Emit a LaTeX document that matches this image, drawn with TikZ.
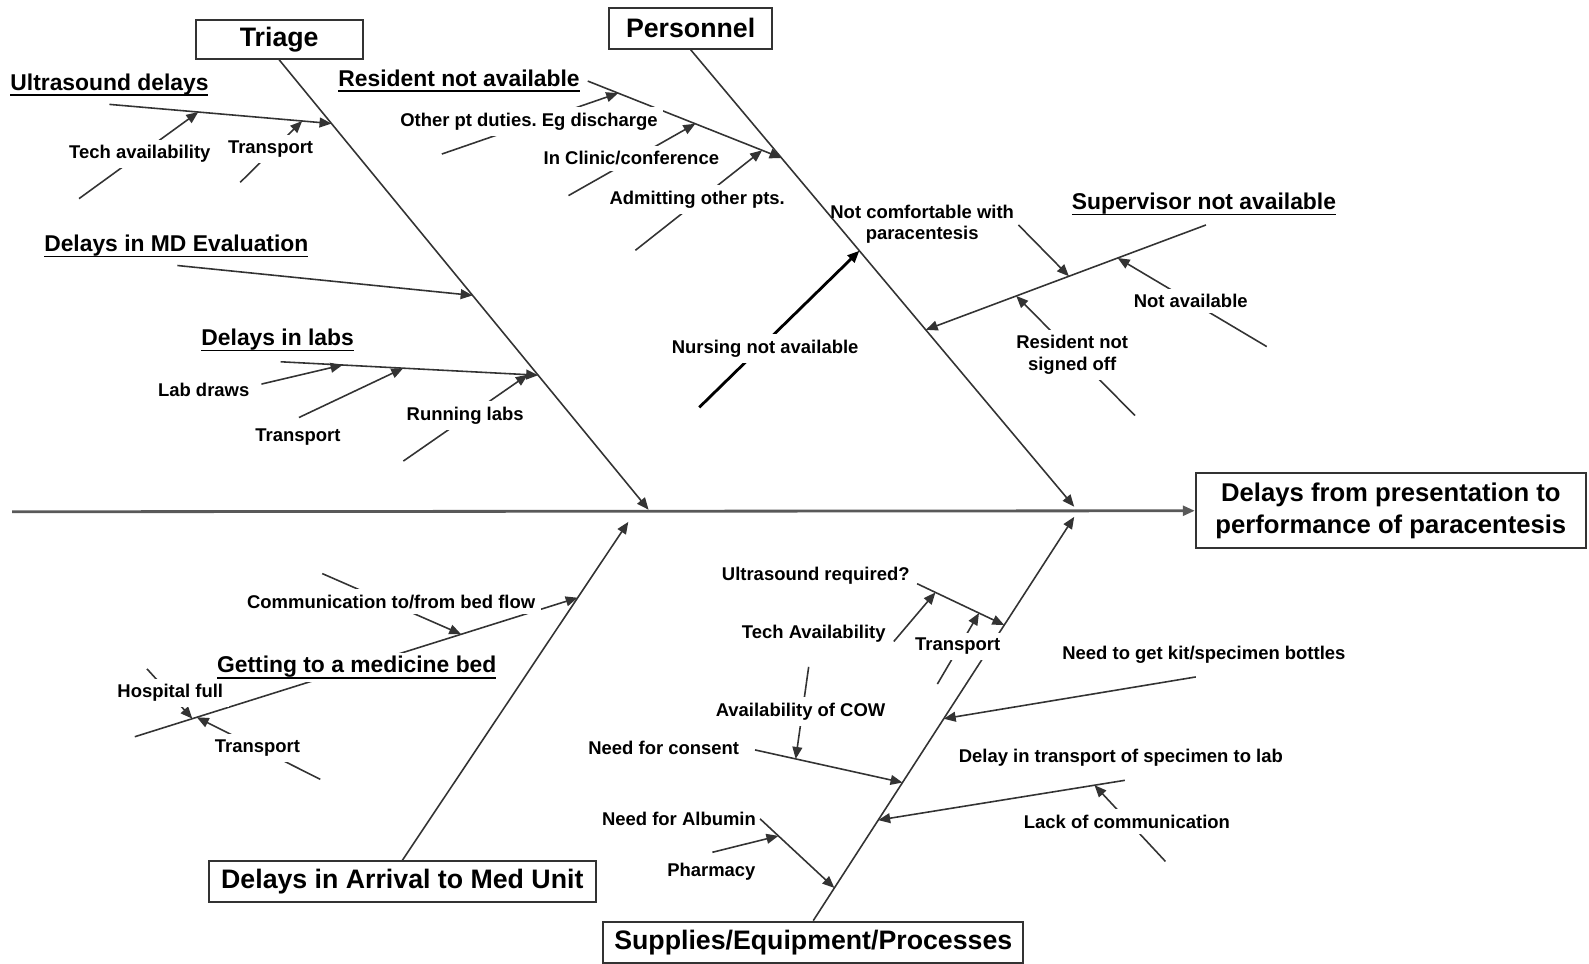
\documentclass[tikz,border=0pt]{standalone}
\usepackage{fontspec}
\setmainfont{Liberation Sans}
\usepackage{xcolor}
\colorlet{colorLine}{black!80}
\colorlet{colorSpine}{black!65}
\usepackage{tikz}
\usetikzlibrary{arrows.meta, calc}
\frenchspacing
\newcommand{\hdul}[1]{\underline{\smash{#1}}}
\tikzset{
  catbox/.style={draw=colorLine, line width=0.6pt, fill=white, inner sep=0pt, align=center, font=\fontsize{7.6}{9}\selectfont\bfseries},
  head/.style={inner sep=0pt, anchor=base, text height=4.8pt, text depth=1.7pt, font=\fontsize{6.5}{7.5}\selectfont\bfseries},
  onhead/.style={head, fill=white, inner sep=1pt},
  lbl/.style={inner sep=1pt, align=center, font=\fontsize{5.25}{6.1}\selectfont\bfseries},
  onlbl/.style={lbl, fill=white, inner sep=1.6pt},
  bone/.style={draw=colorLine, line width=0.45pt},
}

\begin{document}
\begin{tikzpicture}[x=0.010134cm, y=-0.010134cm, >={Triangle[length=3.4pt, width=2.8pt]}]
\useasboundingbox (0,0) rectangle (1568,951);
\node[catbox, minimum width=1.67cm, minimum height=0.385cm] (triage) at (275.5,39) {Triage};
\node[catbox, minimum width=1.63cm, minimum height=0.405cm] (pers) at (681.5,28) {Personnel};
\node[catbox, minimum width=3.87cm, minimum height=0.405cm] (arrival) at (397,870) {Delays in Arrival to Med Unit};
\node[catbox, minimum width=4.2cm, minimum height=0.415cm] (supp) at (802.5,930) {Supplies/Equipment/Processes};
\node[catbox, minimum width=3.9cm, minimum height=0.75cm, font=\fontsize{7.3}{8.9}\selectfont\bfseries] (effect) at (1372.5,504) {Delays from presentation to\\performance of paracentesis};

\coordinate (sp0) at (12,505);
\coordinate (tj) at (640,503);
\coordinate (pj) at (1060,500);
\coordinate (aj) at (620,515);
\coordinate (sj) at (1060,510);
\draw [->, draw=colorSpine, line width=0.8pt] (sp0) -- (effect.west);
\draw [->, bone] (triage.south) -- (tj);
\draw [->, bone] (pers.south) -- (pj);
\draw [->, bone] (arrival.north) -- (aj);
\draw [->, bone] (supp.north) -- (sj);

\coordinate (us0) at (108,103);
\coordinate (us1) at ($(triage.south)!0.1416!(tj)$);
\coordinate (usa) at (78,196);
\coordinate (usb) at (237,180);
\draw [->, bone] (us0) -- (us1);
\draw [->, bone] (usa) -- ($(us0)!0.40!(us1)$);
\draw [->, bone] (usb) -- ($(us0)!0.868!(us1)$);
\coordinate (md0) at (175,262);
\draw [->, bone] (md0) -- ($(triage.south)!0.5236!(tj)$);
\coordinate (lb0) at (277,357);
\coordinate (lb1) at ($(triage.south)!0.701!(tj)$);
\coordinate (lba) at (258,379);
\coordinate (lbb) at (295,412);
\coordinate (lbc) at (398,455);
\draw [->, bone] (lb0) -- (lb1);
\draw [->, bone] (lba) -- ($(lb0)!0.24!(lb1)$);
\draw [->, bone] (lbb) -- ($(lb0)!0.476!(lb1)$);
\draw [->, bone] (lbc) -- ($(lb0)!0.96!(lb1)$);

\coordinate (rn0) at (580,80);
\coordinate (rn1) at ($(pers.south)!0.237!(pj)$);
\coordinate (rna0) at (436,152);
\coordinate (rnb0) at (561,193);
\coordinate (rnc0) at (627,247);
\draw [->, bone] (rn0) -- (rn1);
\draw [->, bone] (rna0) -- ($(rn0)!0.157!(rn1)$);
\draw [->, bone] (rnb0) -- ($(rn0)!0.555!(rn1)$);
\draw [->, bone] (rnc0) -- ($(rn0)!0.90!(rn1)$);
\coordinate (nu0) at (690,402);
\draw [->, draw=black, line width=0.8pt] (nu0) -- ($(pers.south)!0.44!(pj)$);
\coordinate (sv0) at (1190,222);
\coordinate (sv1) at ($(pers.south)!0.613!(pj)$);
\coordinate (sva0) at (1005,222);
\coordinate (svb0) at (1250,342);
\coordinate (svc0) at (1120,410);
\draw [->, bone] (sv0) -- (sv1);
\draw [->, bone] (sva0) -- ($(sv0)!0.489!(sv1)$);
\draw [->, bone] (svb0) -- ($(sv0)!0.315!(sv1)$);
\draw [->, bone] (svc0) -- ($(sv0)!0.677!(sv1)$);

\coordinate (gb0) at (133,727);
\coordinate (gb1) at ($(arrival.north)!0.776!(aj)$);
\coordinate (gba0) at (318,566);
\coordinate (gbb0) at (145,660);
\coordinate (gbc0) at (316,769);
\draw [->, bone] (gb0) -- (gb1);
\draw [->, bone] (gba0) -- ($(gb0)!0.737!(gb1)$);
\draw [->, bone] (gbb0) -- ($(gb0)!0.13!(gb1)$);
\draw [->, bone] (gbc0) -- ($(gb0)!0.14!(gb1)$);

\coordinate (ur0) at (905,576);
\coordinate (ur1) at ($(supp.north)!0.732!(sj)$);
\coordinate (ura0) at (882,633);
\coordinate (urb0) at (925,675);
\draw [->, bone] (ur0) -- (ur1);
\draw [->, bone] (ura0) -- ($(ur0)!0.21!(ur1)$);
\draw [->, bone] (urb0) -- ($(ur0)!0.71!(ur1)$);
\coordinate (cs0) at (745,740);
\coordinate (cs1) at ($(supp.north)!0.342!(sj)$);
\coordinate (csa0) at (798,658);
\draw [->, bone] (cs0) -- (cs1);
\draw [->, bone] (csa0) -- ($(cs0)!0.276!(cs1)$);
\coordinate (kt0) at (1180,668);
\draw [->, bone] (kt0) -- ($(supp.north)!0.50!(sj)$);
\coordinate (dt0) at (1110,770);
\coordinate (dt1) at ($(supp.north)!0.249!(sj)$);
\coordinate (dta0) at (1150,850);
\draw [->, bone] (dt0) -- (dt1);
\draw [->, bone] (dta0) -- ($(dt0)!0.123!(dt1)$);
\coordinate (ab0) at (750,808);
\coordinate (ab1) at ($(supp.north)!0.081!(sj)$);
\coordinate (aba0) at (703,841);
\draw [->, bone] (ab0) -- (ab1);
\draw [->, bone] (aba0) -- ($(ab0)!0.247!(ab1)$);

\node[head] (usd) at (108,89) {\hdul{Ultrasound delays}};
\node[onlbl] (usdtech) at (138,152) {Tech availability};
\node[onlbl] (usdtrans) at (267,147) {Transport};
\node[head] (mde) at (174,248) {\hdul{Delays in MD Evaluation}};
\node[head] (labs) at (274,341) {\hdul{Delays in labs}};
\node[lbl] (labsdraw) at (201,385) {Lab draws};
\node[lbl] (labstrans) at (294,431) {Transport};
\node[onlbl] (labsrun) at (459,410) {Running labs};

\node[head] (resna) at (453,85) {\hdul{Resident not available}};
\node[onlbl] (resduty) at (522,120) {Other pt duties. Eg discharge};
\node[onlbl] (resclin) at (623,156) {In Clinic/conference};
\node[onlbl] (resadm) at (688,197) {Admitting other pts.};
\node[onlbl] (nurse) at (755,344) {Nursing not available};
\node[head] (supna) at (1188,207) {\hdul{Supervisor not available}};
\node[lbl] (supcomf) at (910,221) {Not comfortable with\\paracentesis};
\node[onlbl] (supavail) at (1175,297) {Not available};
\node[onlbl] (supsign) at (1058,350) {Resident not\\signed off};

\node[onhead] (bed) at (352,664) {\hdul{Getting to a medicine bed}};
\node[onlbl] (bedcomm) at (386,594) {Communication to/from bed flow};
\node[onlbl] (bedfull) at (168,684) {Hospital full};
\node[onlbl] (bedtrans) at (254,738) {Transport};

\node[lbl] (usreq) at (805,568) {Ultrasound required?};
\node[lbl] (usreqtech) at (803,625) {Tech Availability};
\node[onlbl] (usreqtrans) at (945,638) {Transport};
\node[onlbl] (cow) at (790,702) {Availability of COW};
\node[lbl] (consent) at (655,738) {Need for consent};
\node[lbl] (kit) at (1188,646) {Need to get kit/specimen bottles};
\node[lbl] (spec) at (1106,748) {Delay in transport of specimen to lab};
\node[onlbl] (speccomm) at (1112,811) {Lack of communication};
\node[lbl] (alb) at (670,808) {Need for Albumin};
\node[lbl] (albpharm) at (702,860) {Pharmacy};
\end{tikzpicture}
\end{document}
